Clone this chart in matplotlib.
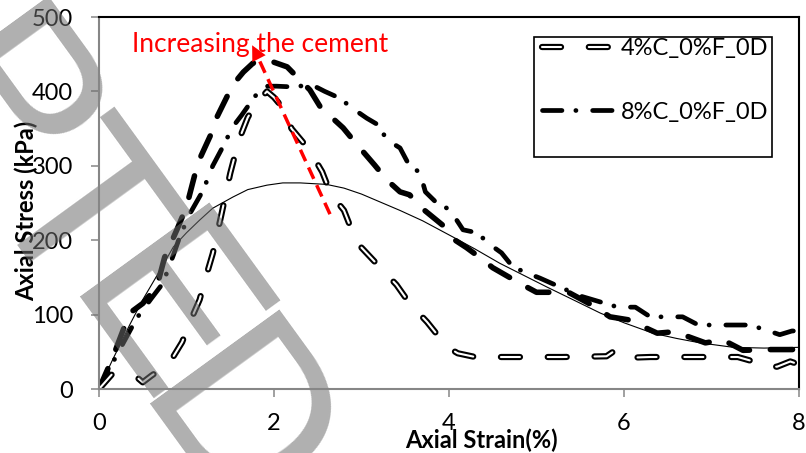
import numpy as np
import matplotlib
matplotlib.use('Agg')
import matplotlib.pyplot as plt
import matplotlib.patheffects as pe
from matplotlib.patches import Rectangle

plt.rcParams['font.family'] = ['Lato', 'DejaVu Sans']
plt.rcParams['lines.scale_dashes'] = False

# 4%C_0%F_0D  (open dashes)
strain_4 = [0, 0.15, 0.3, 0.45, 0.5, 0.6, 0.8, 0.95, 1.05, 1.15, 1.22, 1.3, 1.4, 1.5,
            1.6, 1.7, 1.8, 1.92, 2.0, 2.1, 2.2, 2.4, 2.55, 2.65, 2.8, 2.9, 3.0, 3.2,
            3.4, 3.55, 3.75, 3.9, 4.0, 4.1, 4.3, 4.8, 5.3, 5.8, 5.9, 6.05, 6.3, 6.8,
            7.3, 7.45, 7.6, 7.75, 7.9, 8.0]
stress_4 = [0, 20, 15, 14, 9, 18, 34, 63, 93, 120, 150, 182, 235, 290,
            335, 365, 385, 400, 392, 378, 350, 322, 292, 262, 240, 210, 190, 165,
            140, 115, 90, 68, 55, 48, 43, 43, 43, 44, 52, 42, 43, 43,
            43, 38, 30, 30, 37, 33]

# 8%C_0%F_0D  (dash-dot)
strain_8 = [0, 0.2, 0.43, 0.6, 0.73, 0.85, 0.93, 1.05, 1.19, 1.3, 1.44, 1.52, 1.63,
            1.75, 1.87, 2.03, 2.22, 2.43, 2.58, 2.75, 2.9, 3.06, 3.19, 3.29, 3.44,
            3.53, 3.67, 3.73, 3.86, 4.01, 4.16, 4.32, 4.47, 4.6, 4.73, 4.89, 5.04,
            5.5, 5.93, 6.13, 6.3, 6.49, 6.67, 6.85, 7.06, 7.33, 7.44, 7.63, 7.78,
            7.92, 8.0]
stress_8 = [0, 45, 95, 122, 142, 180, 207, 238, 267, 300, 331, 351, 368,
            388, 407, 407, 406, 409, 400, 391, 377, 364, 355, 335, 324,
            304, 290, 265, 250, 241, 214, 210, 194, 183, 164, 156, 149,
            125, 110, 110, 97, 97, 97, 86, 86, 86, 86, 79, 73,
            78, 78]

# third series (long dashes, not in legend)
strain_c = [0, 0.16, 0.22, 0.35, 0.5, 0.66, 0.75, 0.89, 1.0, 1.13, 1.29, 1.35, 1.53,
            1.65, 1.76, 1.86, 1.98, 2.15, 2.41, 2.53, 2.79, 2.93, 3.15, 3.29, 3.44,
            3.55, 3.67, 3.93, 4.07, 4.2, 4.35, 4.5, 4.81, 5.0, 5.27, 5.38, 5.6, 5.84,
            6.05, 6.38, 6.58, 6.93, 7.13, 7.36, 7.67, 8.0]
stress_c = [0, 43, 62, 102, 115, 137, 177, 214, 245, 304, 345, 366, 409,
            426, 438, 440, 440, 433, 402, 379, 351, 331, 301, 281, 265,
            261, 245, 220, 200, 190, 177, 163, 142, 130, 130, 129, 115, 97,
            93, 75, 77, 62, 66, 52, 53, 53]

# smooth fitted curve
strain_fit = [0, 0.15, 0.25, 0.35, 0.5, 0.65, 0.85, 1.0, 1.15, 1.3, 1.53, 1.7, 1.92,
              2.1, 2.3, 2.6, 2.8, 3.0, 3.2, 3.44, 3.7, 4.05, 4.3, 4.58, 4.85, 5.12,
              5.4, 5.73, 6.0, 6.33, 6.6, 6.87, 7.25, 7.6, 8.0]
stress_fit = [0, 38, 62, 86, 120, 150, 191, 210, 227, 243, 258, 268, 274,
              277, 277, 275, 270, 262, 252, 240, 226, 204, 188, 169, 153, 137,
              121, 102, 89, 75, 68, 62, 56, 55, 56]

arrow_tail = (2.64, 235)
arrow_tip = (1.75, 462)

xticks = [0, 2, 4, 6, 8]
yticks = [0, 100, 200, 300, 400, 500]

W, H = 806, 453
fig = plt.figure(figsize=(W / 100, H / 100), dpi=100)
ax = fig.add_axes([99 / W, 64 / H, 700 / W, 372 / H])

ax.plot(strain_fit, stress_fit, color='black', lw=0.8)
ax.plot(strain_c, stress_c, color='black', lw=4, dashes=(16, 15),
        dash_capstyle='round', dash_joinstyle='round')
l8, = ax.plot(strain_8, stress_8, color='black', lw=3.4, dashes=(14, 10, 0.1, 12),
              dash_capstyle='round', dash_joinstyle='round', label='8%C_0%F_0D')
l4, = ax.plot(strain_4, stress_4, color='white', lw=1.5, dashes=(13.7, 20),
              dash_capstyle='round', dash_joinstyle='round', label='4%C_0%F_0D',
              path_effects=[pe.Stroke(linewidth=4.5, foreground='black'), pe.Normal()])

# red arrow
ax.plot([arrow_tail[0], 1.80], [arrow_tail[1], 450], color='red', lw=2.5, dashes=(9, 5))
ax.annotate('', xy=arrow_tip, xytext=(1.82, 446),
            arrowprops=dict(arrowstyle='-|>,head_length=0.6,head_width=0.3',
                            color='red', lw=0, mutation_scale=18,
                            shrinkA=0, shrinkB=0))
ax.text(0.377, 453, 'Increasing the cement', color='red', fontsize=19,
        ha='left', va='baseline')

ax.set_xlim(0, 8)
ax.set_ylim(0, 500)
ax.set_xticks(xticks)
ax.set_yticks(yticks)
ax.tick_params(direction='out', length=5.8, width=1.1, color='#868686', labelsize=17)
ax.tick_params(axis='x', pad=11.5)
ax.tick_params(axis='y', pad=13)
for s in ['left', 'bottom']:
    ax.spines[s].set_color('#868686')
    ax.spines[s].set_linewidth(1.5)
for s in ['top', 'right']:
    ax.spines[s].set_color('black')
    ax.spines[s].set_linewidth(1.5)

ax.set_xlabel('Axial Strain(%)', fontsize=17, fontweight='bold')
ax.xaxis.set_label_coords((481 - 99) / 700, (389 - 429) / 372)
ax.set_ylabel('Axial Stress (kPa)', fontsize=17, fontweight='bold')
ax.yaxis.set_label_coords((38 - 99) / 700, (389 - 211) / 372)

leg = ax.legend(handles=[l4, l8], loc='upper left',
                bbox_to_anchor=((542 - 99) / 700, (389 - 38) / 372),
                frameon=False, fontsize=17, handlelength=3.18, handletextpad=0.15,
                labelspacing=1.8, borderpad=0, borderaxespad=0)
ax.add_patch(Rectangle(((534 - 99) / 700, (389 - 157) / 372), (772 - 534) / 700,
                       (157 - 37) / 372, transform=ax.transAxes, fill=False,
                       edgecolor='black', lw=1.2, clip_on=False, zorder=5))

# watermark letters
for letter, px, py in [('P', -54, 151), ('T', 20, 257), ('E', 105, 359), ('D', 179, 471)]:
    ax.text(px / W, 1 - py / H, letter, transform=fig.transFigure, rotation=-54,
            rotation_mode='anchor', ha='center', va='baseline', fontsize=167,
            family='Liberation Sans', color='#6e6e6e', alpha=0.55, zorder=2.2,
            clip_on=False)

fig.savefig('out.png', dpi=100)
